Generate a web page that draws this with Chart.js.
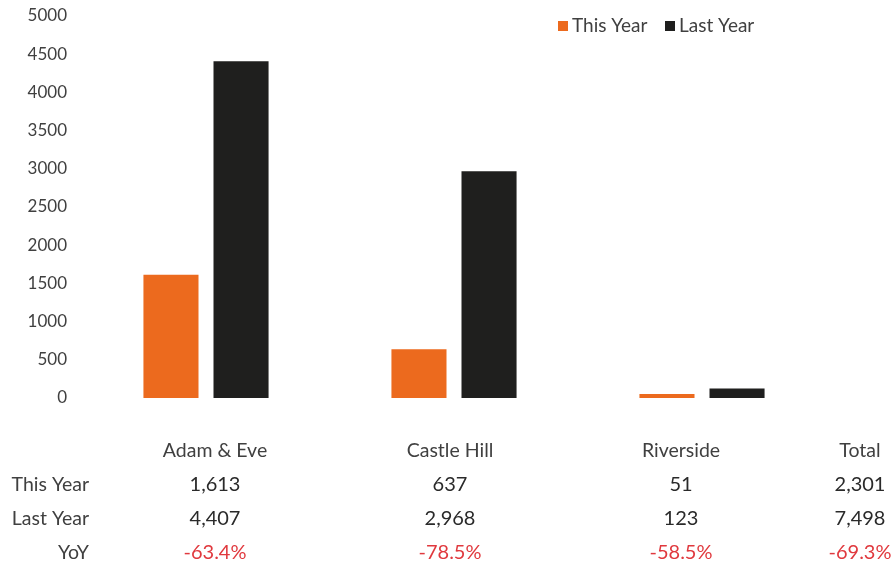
<!DOCTYPE html>
<html>
<head>
<meta charset="utf-8">
<script src="https://cdn.jsdelivr.net/npm/chart.js@4.4.1/dist/chart.umd.min.js"></script>
<style>
  html, body { margin: 0; padding: 0; background: #fff; }
  #wrap { position: relative; width: 895px; height: 567px; }
</style>
</head>
<body>
<div id="wrap"><canvas id="Grafico"></canvas></div>
<script>
// Dados do gráfico
const sites = ['Adam & Eve', 'Castle Hill', 'Riverside'];
const thisYear = [1613, 637, 51];
const lastYear = [4407, 2968, 123];
const seriesNames = ['This Year', 'Last Year'];

// Tabela abaixo do gráfico
const tableHeaders = ['Adam & Eve', 'Castle Hill', 'Riverside', 'Total'];
const tableRowLabels = ['This Year', 'Last Year', 'YoY'];
const tableThisYear = ['1,613', '637', '51', '2,301'];
const tableLastYear = ['4,407', '2,968', '123', '7,498'];
const tableYoY = ['-63.4%', '-78.5%', '-58.5%', '-69.3%'];

const orange = '#EC6A1E';
const black = '#1F1F1E';
const textColor = '#404040';
const red = '#E0393E';
const fontFamily = 'Lato, "Open Sans", sans-serif';

// Desenha a legenda e a tabela
const extrasPlugin = {
    id: 'extras',
    afterDraw(chart) {
        const ctx = chart.ctx;
        ctx.save();
        // legenda
        ctx.font = '19px ' + fontFamily;
        ctx.textBaseline = 'middle';
        ctx.textAlign = 'left';
        let lx = 558;
        [orange, black].forEach((c, i) => {
            ctx.fillStyle = c;
            ctx.fillRect(lx, 21, 10, 10);
            ctx.fillStyle = textColor;
            ctx.fillText(seriesNames[i], lx + 14, 26);
            lx += 107;
        });

        // tabela
        const colX = [215, 450, 681, 860];
        const rowY = [451, 485, 519, 553];
        ctx.textAlign = 'center';
        ctx.font = '19.5px ' + fontFamily;
        ctx.fillStyle = textColor;
        tableHeaders.forEach((h, i) => ctx.fillText(h, colX[i], rowY[0]));

        ctx.textAlign = 'right';
        tableRowLabels.forEach((l, i) => ctx.fillText(l, 89, rowY[i + 1]));

        ctx.textAlign = 'center';
        ctx.font = '20px ' + fontFamily;
        ctx.fillStyle = '#2a2a2a';
        tableThisYear.forEach((v, i) => ctx.fillText(v, colX[i], rowY[1]));
        tableLastYear.forEach((v, i) => ctx.fillText(v, colX[i], rowY[2]));
        ctx.fillStyle = red;
        tableYoY.forEach((v, i) => ctx.fillText(v, colX[i], rowY[3]));
        ctx.restore();
    }
};

const ctx = document.getElementById('Grafico').getContext('2d');
new Chart(ctx, {
    type: 'bar',
    data: {
        labels: sites,
        datasets: [
            { label: seriesNames[0], data: thisYear, backgroundColor: orange },
            { label: seriesNames[1], data: lastYear, backgroundColor: black }
        ]
    },
    options: {
        responsive: true,
        maintainAspectRatio: false,
        animation: false,
        categoryPercentage: 0.565,
        barPercentage: 0.786,
        layout: { padding: { top: 16, right: 69, bottom: 169, left: 0 } },
        plugins: {
            legend: { display: false },
            tooltip: { enabled: false }
        },
        scales: {
            x: { display: false },
            y: {
                min: 0,
                max: 5000,
                grid: { display: false },
                border: { display: false },
                ticks: {
                    stepSize: 500,
                    color: textColor,
                    padding: 7,
                    font: { family: fontFamily, size: 17 },
                    callback: (v) => String(v)
                },
                afterFit(scale) {
                    scale.width = 82;
                    scale.paddingTop = 0;
                    scale.paddingBottom = 0;
                }
            }
        }
    },
    plugins: [extrasPlugin]
});
</script>
</body>
</html>
